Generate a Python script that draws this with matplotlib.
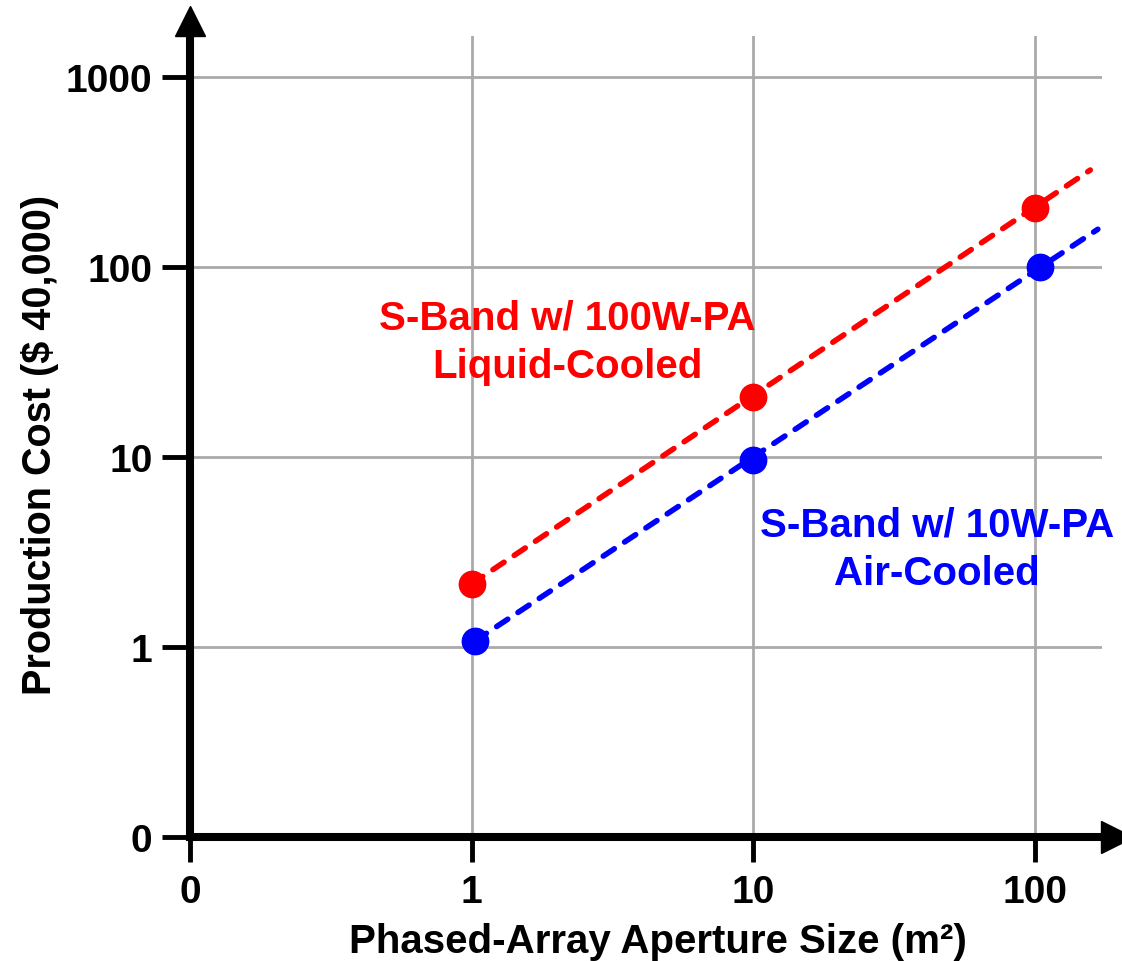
import matplotlib
matplotlib.use("Agg")
import matplotlib.pyplot as plt
import matplotlib.transforms as mtransforms

plt.rcParams['font.family'] = ['Liberation Sans', 'DejaVu Sans']
plt.rcParams['font.weight'] = 'bold'

# data
red_x = [1, 10, 100]
red_y = [2.15, 20.7, 204]
blue_x = [1.03, 10, 104]
blue_y = [1.08, 9.6, 100]

# dashed trend lines (start, end)
red_fit_x = [1, 157]
red_fit_y = [2.15, 324]
blue_fit_x = [1.03, 167]
blue_fit_y = [1.08, 158]

x_ticks = [0.1, 1, 10, 100]
x_labels = ["0", "1", "10", "100"]
y_ticks = [0.1, 1, 10, 100, 1000]
y_labels = ["0", "1", "10", "100", "1000"]

W, H = 1122, 962
fig = plt.figure(figsize=(W / 100, H / 100), dpi=100)
# axes box in pixels: left 190, right 1102, bottom 838, top 37
ax = fig.add_axes([190 / W, (H - 838) / H, (1102 - 190) / W, (838 - 37) / H])
ax.set_xscale('log')
ax.set_yscale('log')
ax.set_xlim(0.1, 0.1 * 10 ** ((1102 - 190) / 281.7))
ax.set_ylim(0.1, 0.1 * 10 ** ((838 - 37) / 190.0))

ax.grid(True, which='major', color='#aaaaaa', lw=2)
ax.set_axisbelow(True)

ax.plot(red_fit_x, red_fit_y, color='red', lw=4, dashes=(2.4, 2.2),
        dash_capstyle='round', zorder=3)
ax.plot(blue_fit_x, blue_fit_y, color='blue', lw=4, dashes=(2.4, 2.2),
        dash_capstyle='round', zorder=3)
ax.plot(red_x, red_y, 'o', color='red', ms=19, zorder=4)
ax.plot(blue_x, blue_y, 'o', color='blue', ms=19, zorder=4)

ax.text(2.18, 40.5, "S-Band w/ 100W-PA\nLiquid-Cooled", color='red',
        fontsize=29, fontweight='bold', ha='center', va='center', linespacing=1.35)
ax.text(44.9, 3.3, "S-Band w/ 10W-PA\nAir-Cooled", color='blue',
        fontsize=29, fontweight='bold', ha='center', va='center', linespacing=1.35)

# axes lines with arrow heads
for s in ['top', 'right']:
    ax.spines[s].set_visible(False)
for s in ['left', 'bottom']:
    ax.spines[s].set_linewidth(5.8)
up = mtransforms.offset_copy(ax.transAxes, fig, x=0, y=15, units='dots')
right = mtransforms.offset_copy(ax.transAxes, fig, x=15, y=0, units='dots')
ax.plot(0, 1, '^', color='k', ms=22, transform=up, clip_on=False)
ax.plot(1, 0, '>', color='k', ms=23, transform=right, clip_on=False)

ax.set_xticks(x_ticks)
ax.set_xticklabels(x_labels)
ax.set_yticks(y_ticks)
ax.set_yticklabels(y_labels)
ax.minorticks_off()
ax.tick_params(axis='y', length=20, width=3.5, pad=7, labelsize=28)
ax.tick_params(axis='x', length=18, width=3.5, pad=9, labelsize=28)
for t in ax.xaxis.get_major_ticks() + ax.yaxis.get_major_ticks():
    t.tick1line.set_solid_capstyle('round')

ax.set_xlabel("Phased-Array Aperture Size (m\u00b2)", fontsize=29,
              fontweight='bold', va='center')
ax.xaxis.set_label_coords((658 - 190) / 912, -(942 - 838) / 801)
ax.set_ylabel("Production Cost ($ 40,000)", fontsize=28.5,
              fontweight='bold', va='center')
ax.yaxis.set_label_coords((40 - 190) / 912, (838 - 445) / 801)

plt.savefig("out.png", dpi=100)
